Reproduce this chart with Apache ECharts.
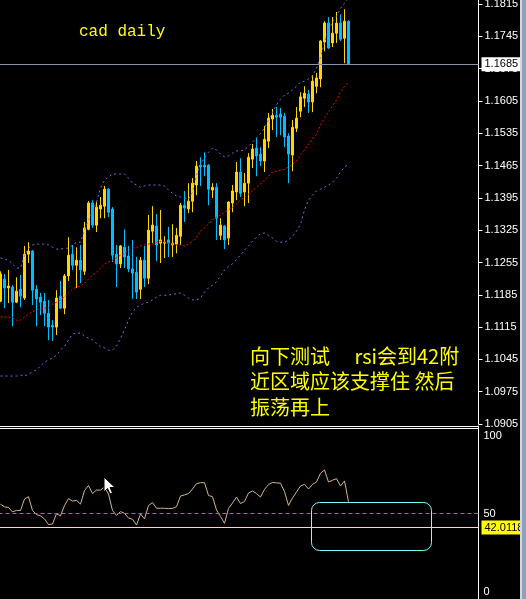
<!DOCTYPE html>
<html><head><meta charset="utf-8">
<script src="https://cdn.jsdelivr.net/npm/echarts@6/dist/echarts.min.js"></script>
<style>html,body{margin:0;padding:0;background:#000;}#c{width:526px;height:599px;}</style>
</head><body><div id="c"></div>
<script>
// ---- data ----
const open = [1.1171,1.1219,1.1200,1.1202,1.1169,1.1197,1.1178,1.1273,1.1280,1.1197,
1.1180,1.1171,1.1145,1.1119,1.1115,1.1182,1.1156,1.1226,1.1273,1.1249,
1.1260,1.1236,1.1327,1.1384,1.1336,1.1371,1.1377,1.1414,1.1371,1.1273,
1.1252,1.1288,1.1269,1.1241,1.1234,1.1197,1.1260,1.1221,1.1323,1.1334,
1.1297,1.1297,1.1304,1.1293,1.1295,1.1312,1.1379,1.1371,1.1388,1.1423,
1.1466,1.1466,1.1466,1.1412,1.1418,1.1314,1.1334,1.1308,1.1384,1.1408,
1.1451,1.1408,1.1427,1.1479,1.1503,1.1490,1.1475,1.1518,1.1566,1.1574,
1.1577,1.1572,1.1529,1.1488,1.1546,1.1583,1.1611,1.1620,1.1603,1.1637,
1.1653,1.1733,1.1774,1.1731,1.1752,1.1774,1.1741,1.1778];
const close = [1.1230,1.1200,1.1204,1.1169,1.1193,1.1182,1.1273,1.1280,1.1195,1.1176,
1.1169,1.1145,1.1115,1.1115,1.1178,1.1156,1.1226,1.1271,1.1249,1.1260,
1.1239,1.1330,1.1384,1.1336,1.1375,1.1379,1.1414,1.1364,1.1271,1.1252,
1.1291,1.1267,1.1241,1.1232,1.1191,1.1260,1.1221,1.1325,1.1336,1.1293,
1.1304,1.1299,1.1297,1.1297,1.1314,1.1379,1.1373,1.1388,1.1427,1.1464,
1.1462,1.1462,1.1414,1.1418,1.1351,1.1336,1.1304,1.1386,1.1410,1.1451,
1.1405,1.1427,1.1483,1.1501,1.1486,1.1475,1.1522,1.1568,1.1574,1.1570,
1.1570,1.1527,1.1490,1.1548,1.1568,1.1614,1.1622,1.1603,1.1648,1.1655,
1.1735,1.1774,1.1720,1.1752,1.1774,1.1739,1.1778,1.1685];
const high = [1.1236,1.1230,1.1239,1.1206,1.1223,1.1228,1.1291,1.1299,1.1282,1.1206,
1.1189,1.1189,1.1174,1.1130,1.1195,1.1215,1.1230,1.1310,1.1293,1.1288,
1.1293,1.1343,1.1388,1.1390,1.1386,1.1397,1.1421,1.1416,1.1375,1.1293,
1.1293,1.1327,1.1291,1.1304,1.1267,1.1267,1.1291,1.1358,1.1377,1.1360,
1.1369,1.1312,1.1332,1.1338,1.1330,1.1384,1.1410,1.1427,1.1438,1.1475,
1.1483,1.1494,1.1468,1.1427,1.1427,1.1351,1.1336,1.1388,1.1423,1.1473,
1.1481,1.1449,1.1492,1.1512,1.1525,1.1505,1.1551,1.1579,1.1588,1.1592,
1.1590,1.1579,1.1535,1.1564,1.1592,1.1624,1.1637,1.1629,1.1661,1.1666,
1.1737,1.1778,1.1787,1.1787,1.1798,1.1793,1.1804,1.1780];
const low = [1.1169,1.1156,1.1167,1.1117,1.1167,1.1158,1.1174,1.1254,1.1163,1.1117,
1.1141,1.1117,1.1087,1.1085,1.1098,1.1154,1.1143,1.1215,1.1239,1.1200,
1.1210,1.1228,1.1325,1.1330,1.1321,1.1351,1.1351,1.1353,1.1256,1.1202,
1.1243,1.1243,1.1234,1.1176,1.1176,1.1176,1.1202,1.1208,1.1297,1.1258,
1.1254,1.1265,1.1267,1.1267,1.1275,1.1293,1.1343,1.1362,1.1364,1.1401,
1.1421,1.1442,1.1379,1.1395,1.1304,1.1304,1.1284,1.1293,1.1364,1.1390,
1.1397,1.1377,1.1384,1.1460,1.1442,1.1464,1.1451,1.1503,1.1542,1.1527,
1.1531,1.1505,1.1427,1.1453,1.1538,1.1570,1.1592,1.1579,1.1581,1.1622,
1.1635,1.1713,1.1718,1.1722,1.1731,1.1735,1.1687,1.1685];
const bandUpper = [1.1265,1.1262,1.1260,1.1252,1.1243,1.1243,1.1271,1.1286,1.1293,1.1295,
1.1295,1.1295,1.1293,1.1288,1.1284,1.1284,1.1286,1.1286,1.1293,1.1299,
1.1299,1.1325,1.1347,1.1364,1.1386,1.1416,1.1434,1.1440,1.1447,1.1447,
1.1447,1.1447,1.1438,1.1427,1.1423,1.1418,1.1421,1.1423,1.1423,1.1423,
1.1423,1.1421,1.1412,1.1405,1.1399,1.1397,1.1395,1.1392,1.1408,1.1444,
1.1468,1.1481,1.1494,1.1503,1.1499,1.1490,1.1484,1.1486,1.1492,1.1497,
1.1497,1.1499,1.1507,1.1516,1.1525,1.1535,1.1546,1.1564,1.1581,1.1596,
1.1609,1.1618,1.1622,1.1629,1.1637,1.1646,1.1648,1.1653,1.1659,1.1676,
1.1700,1.1733,1.1759,1.1776,1.1789,1.1806,1.1817,1.1828];
const bandMiddle = [1.1137,1.1137,1.1137,1.1135,1.1130,1.1130,1.1137,1.1143,1.1148,1.1152,
1.1154,1.1156,1.1158,1.1165,1.1169,1.1174,1.1180,1.1189,1.1197,1.1202,
1.1204,1.1210,1.1219,1.1228,1.1234,1.1243,1.1252,1.1256,1.1260,1.1265,
1.1271,1.1275,1.1282,1.1286,1.1288,1.1291,1.1293,1.1295,1.1295,1.1299,
1.1301,1.1299,1.1297,1.1295,1.1293,1.1293,1.1291,1.1295,1.1301,1.1310,
1.1323,1.1330,1.1338,1.1349,1.1353,1.1358,1.1364,1.1369,1.1375,1.1382,
1.1390,1.1397,1.1403,1.1410,1.1418,1.1425,1.1434,1.1442,1.1451,1.1453,
1.1455,1.1457,1.1462,1.1468,1.1475,1.1488,1.1499,1.1512,1.1523,1.1533,
1.1553,1.1568,1.1581,1.1594,1.1607,1.1624,1.1637,1.1646];
const bandLower = [1.1009,1.1009,1.1009,1.1009,1.1009,1.1011,1.1009,1.1013,1.1018,1.1022,
1.1031,1.1039,1.1044,1.1048,1.1054,1.1065,1.1074,1.1087,1.1100,1.1102,
1.1102,1.1096,1.1091,1.1087,1.1080,1.1072,1.1070,1.1065,1.1065,1.1074,
1.1091,1.1109,1.1130,1.1148,1.1158,1.1163,1.1167,1.1169,1.1174,1.1180,
1.1184,1.1184,1.1184,1.1187,1.1187,1.1189,1.1184,1.1178,1.1174,1.1174,
1.1178,1.1191,1.1200,1.1206,1.1213,1.1226,1.1239,1.1247,1.1252,1.1262,
1.1271,1.1282,1.1291,1.1301,1.1310,1.1317,1.1319,1.1314,1.1308,1.1301,
1.1299,1.1299,1.1304,1.1312,1.1323,1.1338,1.1369,1.1390,1.1401,1.1410,
1.1414,1.1418,1.1423,1.1429,1.1438,1.1451,1.1462,1.1468];
const rsi = [55.3,53.8,53.5,50.9,51.8,51.7,58.3,59.6,51.7,49.4,
48.7,46.9,43.7,44.0,49.9,48.6,54.6,58.5,57.1,57.5,
55.4,63.1,66.0,61.4,63.4,63.4,65.1,61.1,51.7,48.9,
51.1,50.1,47.4,46.7,43.4,49.7,46.9,54.6,56.2,53.0,
53.0,53.0,52.8,52.9,53.9,60.0,60.6,61.4,64.0,67.1,
67.6,67.6,60.3,59.6,52.0,48.3,44.4,52.9,56.0,59.4,
55.7,56.9,61.7,62.9,61.4,59.4,63.8,66.5,67.8,67.5,
67.3,62.5,54.6,58.9,62.3,65.7,66.7,64.0,66.6,68.0,
73.0,74.9,68.0,69.0,69.9,65.7,68.6,56.7];
const priceMin = 1.0905, priceMax = 1.1824, priceStep = 0.007;
const currentPrice = 1.1685;
const rsiMid = 50, rsiLevel = 42.0118;
const rsiTicks = [0, 50, 100];
const totalSlots = 120;
const title = 'cad daily';
const noteLines = ['向下测试\u3000 rsi会到42附', '近区域应该支撑住 然后', '振荡再上'];

// ---- chart ----
const categories = Array.from({length: totalSlots}, (_, i) => String(i + 1));
const candles = open.map((o, i) => [o, close[i], low[i], high[i]]);
const YEL = '#ffd700', BLU = '#00bfff';
const chart = echarts.init(document.getElementById('c'), null, {renderer: 'canvas'});
const lblFont = {color: '#fff', fontSize: 11, fontFamily: 'Liberation Sans'};
const noteFont = '20px "Noto Sans CJK SC"';
chart.setOption({
  backgroundColor: '#000',
  animation: false,
  grid: [
    {left: -1.5, top: 0, width: 480, height: 424, outerBoundsMode: 'none', containLabel: false},
    {left: -1.5, top: 426, width: 480, height: 175, outerBoundsMode: 'none', containLabel: false}
  ],
  xAxis: [
    {type: 'category', gridIndex: 0, data: categories, show: false},
    {type: 'category', gridIndex: 1, data: categories, show: false}
  ],
  yAxis: [
    {type: 'value', gridIndex: 0, position: 'right', min: priceMin, max: priceMax, interval: priceStep,
     axisLine: {show: true, lineStyle: {color: '#fff', width: 1}},
     axisTick: {show: true, length: 4, lineStyle: {color: '#fff'}},
     axisLabel: Object.assign({margin: 6, showMaxLabel: false, formatter: v => v.toFixed(4)}, lblFont),
     splitLine: {show: false}},
    {type: 'value', gridIndex: 1, position: 'right', min: rsiTicks[0], max: rsiTicks[2], interval: rsiTicks[1],
     axisLine: {show: true, lineStyle: {color: '#fff', width: 1}},
     axisTick: {show: false},
     axisLabel: {margin: 5, color: '#fff', fontSize: 11, fontFamily: 'Liberation Sans',
       formatter: v => v === 100 ? '{t|100}' : (v === 0 ? '{b|0}' : '{m|' + v + '}'),
       rich: {
         t: {padding: [20, 0, 0, 0], color: '#fff', fontSize: 11, fontFamily: 'Liberation Sans'},
         b: {padding: [0, 0, 18, 0], color: '#fff', fontSize: 11, fontFamily: 'Liberation Sans'},
         m: {color: '#fff', fontSize: 11, fontFamily: 'Liberation Sans'}
       }},
     splitLine: {show: false}}
  ],
  series: [
    {type: 'candlestick', xAxisIndex: 0, yAxisIndex: 0, data: candles, barWidth: 2, silent: true,
     itemStyle: {color: YEL, color0: BLU, borderColor: YEL, borderColor0: BLU, borderWidth: 1},
     markLine: {silent: true, symbol: ['none', 'none'], animation: false, precision: 4,
       lineStyle: {color: '#8796a8', width: 1, type: 'solid'},
       label: {show: true, position: 'end', distance: 3, formatter: currentPrice.toFixed(4),
               backgroundColor: '#fff', color: '#000', fontSize: 11, fontFamily: 'Liberation Sans', padding: [2, 3, 1, 3]},
       data: [{yAxis: currentPrice}]}},
    {type: 'line', xAxisIndex: 0, yAxisIndex: 0, data: bandUpper, symbol: 'none', silent: true,
     lineStyle: {color: '#7b68ee', width: 1, type: [2, 3]}},
    {type: 'line', xAxisIndex: 0, yAxisIndex: 0, data: bandMiddle, symbol: 'none', silent: true,
     lineStyle: {color: '#ff0000', width: 1, type: [2, 2]}},
    {type: 'line', xAxisIndex: 0, yAxisIndex: 0, data: bandLower, symbol: 'none', silent: true,
     lineStyle: {color: '#7b68ee', width: 1, type: [2, 3]}},
    {type: 'line', xAxisIndex: 1, yAxisIndex: 1, data: rsi, symbol: 'none', silent: true,
     lineStyle: {color: '#d2b48c', width: 1},
     markLine: {silent: true, symbol: ['none', 'none'], animation: false, precision: 4,
       data: [
         {yAxis: rsiMid, lineStyle: {color: '#b45ac8', width: 1, type: [4, 3]}, label: {show: false}},
         {yAxis: rsiLevel, lineStyle: {color: '#ffff00', width: 1, type: 'solid'},
          label: {show: true, position: 'end', distance: 3, formatter: rsiLevel.toFixed(4),
                  backgroundColor: '#ffff00', color: '#000', fontSize: 11, fontFamily: 'Liberation Sans', padding: [2, 3, 1, 3]}}
       ]}}
  ],
  graphic: [
    {type: 'line', z: 50, shape: {x1: 0, y1: 426.5, x2: 479, y2: 426.5}, style: {stroke: '#fff', lineWidth: 1}},
    {type: 'line', z: 50, shape: {x1: 0, y1: 428.5, x2: 479, y2: 428.5}, style: {stroke: '#fff', lineWidth: 1}},
    {type: 'rect', z: 50, shape: {x: 520, y: 0, width: 2, height: 599}, style: {fill: '#d8d8d8'}},
    {type: 'rect', z: 50, shape: {x: 522, y: 0, width: 4, height: 599}, style: {fill: '#8aa4c0'}},
    {type: 'text', z: 60, left: 79, top: 24, style: {text: title, fill: '#ffff00', font: '16px "Liberation Mono"'}},
    {type: 'text', z: 60, x: 250, y: 356, style: {text: noteLines[0], fill: '#ffff00', font: noteFont, verticalAlign: 'middle'}},
    {type: 'text', z: 60, x: 250, y: 381, style: {text: noteLines[1], fill: '#ffff00', font: noteFont, verticalAlign: 'middle'}},
    {type: 'text', z: 60, x: 250, y: 407, style: {text: noteLines[2], fill: '#ffff00', font: noteFont, verticalAlign: 'middle'}},
    {type: 'rect', z: 60, shape: {x: 311.5, y: 502.5, width: 120, height: 48, r: 8}, style: {fill: 'none', stroke: '#80ffff', lineWidth: 1}},
    {type: 'polygon', z: 70, x: 104, y: 477,
     shape: {points: [[0,0],[0,15],[3.5,11.5],[6,17],[8.5,16],[6,10.5],[11,10.5]]},
     style: {fill: '#fff', stroke: '#000', lineWidth: 1}}
  ]
});
</script></body></html>
